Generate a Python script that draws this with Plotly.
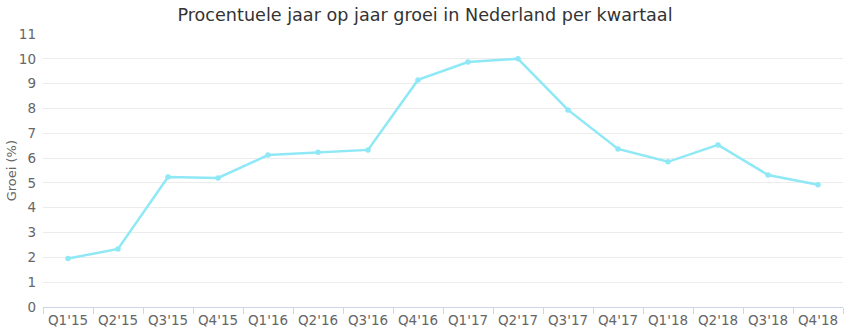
import plotly.graph_objects as go

quarters = ["Q1'15", "Q2'15", "Q3'15", "Q4'15", "Q1'16", "Q2'16", "Q3'16", "Q4'16",
            "Q1'17", "Q2'17", "Q3'17", "Q4'17", "Q1'18", "Q2'18", "Q3'18", "Q4'18"]
groei = [1.95, 2.34, 5.24, 5.2, 6.12, 6.24, 6.33, 9.15,
         9.87, 10.0, 7.94, 6.37, 5.85, 6.53, 5.32, 4.93]

line_color = "#8ee8f5"
font_family = "DejaVu Sans, Lato, sans-serif"

fig = go.Figure()
fig.add_trace(go.Scatter(
    x=quarters, y=groei, mode="lines+markers",
    line=dict(color=line_color, width=2.5),
    marker=dict(color=line_color, size=5.5),
    showlegend=False,
))

fig.update_layout(
    width=850, height=330,
    margin=dict(l=43, r=7, t=34, b=23, autoexpand=False),
    paper_bgcolor="white", plot_bgcolor="white",
    font=dict(family=font_family, color="#666666", size=13),
    title=dict(text="Procentuele jaar op jaar groei in Nederland per kwartaal",
               x=0.5, xanchor="center", y=0.975, yanchor="top", yref="container",
               font=dict(size=17.6, color="#333333", family=font_family)),
)
fig.update_xaxes(
    type="category", range=[-0.5, 15.5], automargin=False,
    showgrid=False, showline=True, linecolor="#ccd6eb", linewidth=1,
    ticks="outside", tickson="boundaries", ticklen=6, tickcolor="#ccd6eb",
    tickfont=dict(size=13.5, color="#666666"), ticklabelstandoff=1,
)
fig.update_yaxes(
    range=[0, 11], dtick=1, showgrid=True, gridcolor="#ececec", gridwidth=1,
    zeroline=False, ticks="", tickfont=dict(size=13.5, color="#666666"),
    ticklabelstandoff=6, automargin=False,
)

# Y-axis title, placed as a rotated annotation left of the tick labels
fig.add_annotation(
    text="Groei (%)", textangle=-90, showarrow=False,
    xref="paper", yref="paper", x=-0.039, y=0.5,
    xanchor="center", yanchor="middle",
    font=dict(size=13, color="#666666", family=font_family),
)

fig.write_html("out.html")
